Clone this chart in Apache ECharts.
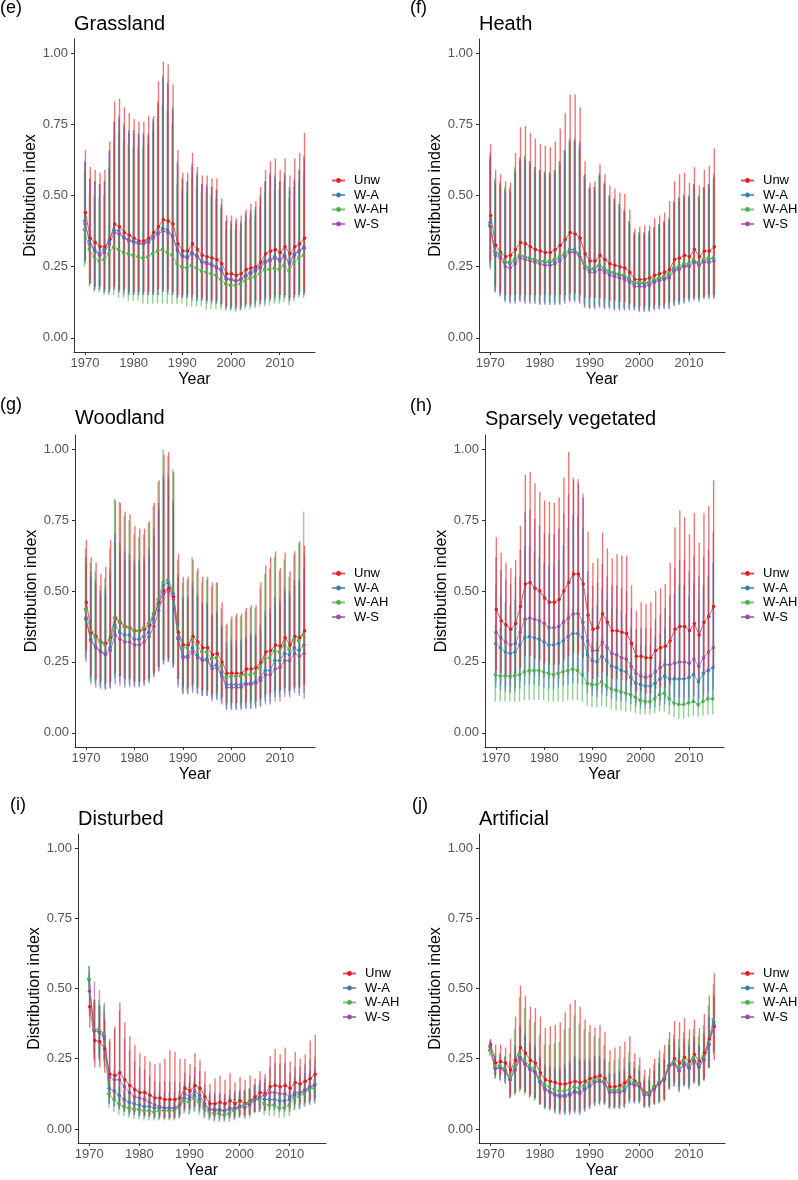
<!DOCTYPE html>
<html>
<head>
<meta charset="utf-8">
<script src="https://cdn.jsdelivr.net/npm/echarts@6/dist/echarts.min.js"></script>
<style>
  html, body { margin: 0; padding: 0; background: #fff; }
  #main { width: 798px; height: 1180px; }
</style>
</head>
<body>
<div id="main"></div>
<script>
// years on the x axis
var years = [1970,1971,1972,1973,1974,1975,1976,1977,1978,1979,
             1980,1981,1982,1983,1984,1985,1986,1987,1988,1989,
             1990,1991,1992,1993,1994,1995,1996,1997,1998,1999,
             2000,2001,2002,2003,2004,2005,2006,2007,2008,2009,
             2010,2011,2012,2013,2014,2015];
var seriesNames = ['Unw', 'W-A', 'W-AH', 'W-S'];
var xTicks = [1970, 1980, 1990, 2000, 2010];
var yTicks = [0, 0.25, 0.5, 0.75, 1];

// all values below in hundredths of the distribution index
// (e) Grassland
var grUnw   = [44,35,33.5,32,32,34.5,40,39,37,36, 35,34,34,35,37,39,41.5,41,40,33, 30.5,30.5,33,31,29,28.5,28,27.5,26,22.5, 22.5,22,22.5,24,24.5,25,26.5,29.5,30.5,31, 30,32,29.5,32,33,35];
var grUnwLo = [27,19,18,18,17,17,18,17,17,16, 16,16,16,16,16,17,17,17,16,15, 15,15,15,14,14,13,13,13,12,11, 11,11,11,12,12,13,13,14,14,15, 15,15,14,15,16,16];
var grUnwHi = [66,60,59,58,59,69,83,84,81,79, 77,76,76,78,78,90,97,96,89,66, 58,58,65,60,57,57,56,56,49,43, 43,42,43,45,47,48,53,59,62,63, 59,63,57,63,65,72];
var grWA    = [41,34,31,29.5,31,34,38,37.5,35.5,34.5, 34,33.5,33,34,35.5,37,38.5,38,36,31, 29,28.5,30,29,27,26.5,26,25,24,21, 20.5,20,20.5,22,23,24,25,27,27.5,28.5, 27.5,29,26.5,29.5,30.5,32];
var grWALo  = [27,19,17,17,16,16,17,16,16,15, 15,15,15,15,15,15,16,16,15,14, 14,14,14,13,13,13,13,12,12,11, 10,10,10,11,11,12,12,13,13,14, 14,14,13,14,15,15];
var grWAHi  = [62,56,55,54,55,66,76,78,75,73, 73,72,72,72,77,83,92,90,81,62, 56,55,61,58,54,54,53,52,47,41, 41,41,41,44,45,46,50,55,58,57, 55,58,53,56,59,64];
var grWAH   = [38,31,28.5,27,27.5,29.5,32,31,30,29.5, 29,28.5,28,28.5,29.5,30.5,31,30,29,26, 25,24.5,25.5,24.5,23.5,23,22.5,22,20.5,19, 18.5,18.5,19,20,21,21.5,22.5,24,24,24.5, 24,25.5,23.5,26.5,28,29];
var grWAHLo = [25,18,16,16,15,15,15,14,14,13, 13,13,12,12,12,12,12,12,12,12, 12,11,11,11,11,10,10,10,10,9.5, 9.5,9,9.5,10,10,10.5,11,11,11.5,12, 12,12.5,11.5,13,14,14];
var grWAHHi = [59,51,50,49,50,60,70,72,69,68, 67,67,67,68,73,77,82,80,75,54, 52,51,56,53,51,51,50,49,45,38, 38,38,38,41,42,43,46,51,52,52, 52,55,49,53,55,58];
var grWS    = [40,33,30.5,29,30,33,37,36.5,35,34, 33.5,33,33,33.5,35,36.5,37.5,37,35.5,30.5, 28.5,28,29.5,28.5,26.5,26,25.5,24.5,23.5,20.5, 20.5,20,20.5,21.5,22.5,23.5,24.5,26.5,27,28, 27,28.5,26,29,30.5,31.5];
var grWSLo  = [26,19,17,17,16,16,17,16,15,15, 15,15,15,15,15,15,16,15,15,14, 14,14,13,13,13,12,12,12,11,10, 10,10,10,11,11,11,12,12,13,13, 13,14,13,14,15,15];
var grWSHi  = [62,56,55,54,55,65,76,77,74,72, 72,71,71,71,76,82,91,89,80,61, 56,55,60,57,54,53,53,52,46,41, 40,40,40,43,44,45,49,55,57,56, 55,57,52,55,59,63];

// (f) Heath
var heUnw   = [43,32.5,30,28.5,29,31,33.5,33,32,31, 30.5,30,30,31,32.5,34.5,37,36.5,35,29.5, 27,27,29,27.5,26,25.5,25,24.5,23,20.5, 20.5,20.5,21,22,22.5,23,24,27.5,28,29, 28.5,31,28.5,30.5,30.5,32];
var heUnwLo = [27,18,16,15,15,15,15,15,15,15, 15,15,15,15,15,15,15.5,15.5,15,14, 14,14,14,13.5,13,13,12.5,12.5,12,11, 11,11,11,11.5,11.5,12,12.5,13,13,14, 14,14.5,14,14.5,15,15];
var heUnwHi = [68,59,57.5,55,54.5,65,74,74.5,72,70, 68,67.5,67,69,73.5,79,85.5,85.5,81,62, 54.5,55,61,57.5,53.5,52.5,51,50.5,45,38.5, 39,39.5,39.5,42,43,44,48,55,57.5,58, 54.5,60,53.5,59,60.5,66.5];
var heWA    = [40.5,30,29,26.5,26,27,29,28.5,28,27.5, 27,26.5,26.5,27,28,29.5,31,31,29.5,26, 24,24,25.5,24,23,22.5,22,21.5,20.5,19, 19,19,19,20,20.5,21,21.5,24,24.5,25.5, 25.5,27,26,27,27.5,28];
var heWALo  = [25,16,15,13,12.5,12.5,13,12.5,12.5,12.5, 12,12,12,12,12,12.5,13,13,12.5,11, 10.5,10.5,11,10.5,10.5,10,10,10,10,10, 9.5,9.5,9.5,10,10,10.5,10.5,11.5,12,12.5, 13,13.5,13,14,14,14];
var heWAHi  = [65,55,54,52,52,59,63,63.5,62,60, 59,58,58,59,62,66,70,70,69,57.5, 53,53,58,55,50,49,47,45,41,37, 37,37,37.5,39,40,41,42,48,49,50, 50,54,50,53,54,57.5];
var heWAH   = [39.5,30.5,29.5,27,26.5,27.5,29,28.5,28,27.5, 27,27,27,27.5,28.5,29.5,30.5,30.5,29,26, 24.5,24.5,25.5,24.5,23.5,23,22.5,22,21,19.5, 19.5,19.5,19.5,20.5,21,21.5,22.5,24.5,25,26, 26,27.5,26.5,27.5,28,28];
var heWAHLo = [26,17,15,13.5,13,13,13.5,13,13,13, 12.5,12.5,12.5,12.5,12.5,13,13.5,13.5,13,12, 11,11,11.5,11,11,10.5,10.5,10.5,10.5,10.5, 10,10,10,10.5,11,11,11.5,12,12.5,13, 13.5,14,14,14.5,15,15];
var heWAHHi = [63,56,55,53,53,60,63.5,64,62,60, 59,58.5,58,59,62,66,69,69,67,57, 52.5,53,57,54,50,49,47,45,41,37, 37,37,37.5,39,40,41,42,48,49.5,50.5, 50,54,50,53,54,56];
var heWS    = [39,29,28,25,24.5,26,28,27.5,27,26.5, 26,25.5,25.5,26,27,28.5,30,30,28.5,24.5, 23,23,24,23,22,21.5,21,20.5,19.5,18, 18,18,18.5,19.5,20,20.5,21,23.5,24,25, 25,26.5,25.5,26.5,26.5,27];
var heWSLo  = [24,16,14.5,12.5,12,12,12.5,12,12,12, 11.5,11.5,11.5,11.5,11.5,12,12.5,12.5,12,10.5, 10,10,10.5,10,10,9.5,9.5,9.5,9.5,9.5, 9,9,9,9.5,10,10,10,11,11.5,12, 12.5,13,12.5,13.5,13.5,13.5];
var heWSHi  = [64,54,53,51,51,58,62,62.5,61,59, 58,57,57,58,61,65,69,69,68,56, 52,52,57,54,49,48,46,44,40,36, 36,36,36.5,38,39,40,41,47,48,49, 49,53,49,52,53,56.5];

// (g) Woodland
var woUnw   = [46,35.5,34,32,31.5,33.5,40.5,39,37.5,37, 36,36,36.5,38,42,46,50,51,48,35.5, 31,31,34,32,30,30,27.5,28,25,21, 21,21,21,22.5,22.5,23,25,28.5,29,31, 30.5,33.5,31,34,33.5,36];
var woUnwLo = [29,20,19,18,17.5,18,21,20,19,19, 18,18,18.5,19,21,23,25.5,26,24,19, 16,16,17,16,15,15,13.5,14,12.5,10.5, 10.5,10.5,10.5,11,11,11,12,13.5,14,15, 15,16,15,16,16,17];
var woUnwHi = [68,62,60,56,58.5,68,82,81,78,77, 73,72,72,74.5,81,89,98,99,92,63, 55,55,61,58,55,55,53,53,46,38.5, 41,42,42,44,45,45,53,59,62,64, 58,63.5,57,64,67.5,66];
var woWA    = [40,33,30.5,29,28,30,38,35.5,34.5,34.5, 33,33,34,35.5,40,45.5,52,53,49,33.5, 27,27,30,27.5,26,26,23.5,24,21,17, 17,17,17,17.5,17.5,18,19.5,22,22,25.5, 25.5,28,27.5,30,29,31];
var woWALo  = [26,18,17,16,15.5,16,19,18,17,17, 16.5,16.5,17,18,20,22,24.5,25,23,17, 14,14,15,14,13,13,12,12,11,8.5, 8.5,8.5,8.5,8.5,8.5,9,9.5,11,11,12.5, 12.5,14,13.5,15,14,14];
var woWAHi  = [62,57,54,50,51,58,70,67,64,63, 61,61,62,65,72,81,91,91,82,56, 48,48,53,49,46,46,42,43,38,32, 33,33,33,34,35,35,38,43,44,48, 47,51,50,54,54,58];
var woWAH   = [43.5,36,33.5,32,31,33,40.5,39,37.5,37, 36,36,37,38.5,42,47,53,54,50.5,37, 30,30,33,31,28.5,28.5,26,26.5,23.5,19.5, 20,20,20,20.5,20.5,21,23,26,26.5,29, 28.5,31,29.5,33,32.5,34.5];
var woWAHLo = [27,19,18,17,16.5,17,20,19.5,19,18.5, 18,18,18,19,21,23.5,26,26.5,25,19, 15,15,16.5,15.5,14,14,13,13,11.5,9.5, 9.5,9.5,9.5,10,10,10,11,12.5,13,14, 14,15.5,14.5,16,16,17];
var woWAHHi = [65,60,57,52,54.5,65,82.5,81.5,76.5,75, 70,69,70,74,80,88.5,100,97.5,93,61, 53,54,62,57,53,54,51.5,53,44,38, 40,41,41,43,44,44,51,56,58,62, 57,61,55,63,67,78];
var woWS    = [40.5,32.5,30,28.5,27.5,29,34.5,33,32,32, 31,31,32,34,37.5,43,49,50,47,33, 26.5,26.5,28.5,26.5,25.5,25.5,22.5,23,20,16, 16,16,16,17,17,17.5,18.5,20.5,20.5,22.5, 23,25.5,25.5,28,27,28];
var woWSLo  = [25,17,16,15.5,15,15.5,17,16.5,16,16, 16,16,16.5,17.5,19.5,21.5,24,25,23,16, 13.5,13.5,14,13.5,13,13,11,11.5,10,8, 8,8,8,8.5,8.5,8.5,9,10,10,11, 11,12.5,12.5,14,13,12];
var woWSHi  = [60,55,52,48,49,56,67,64,61,61, 59,59,60,63,69,79,89,89,80,55, 47,47,51,48,45,45,41,42,37,30, 31,31,31,33,34,34,36,41,42,45, 45,49,48,52,53,63];

// (h) Sparsely vegetated
var spUnw   = [43.5,39.5,38,36.5,38.5,44.5,52.5,53,51,50, 47.5,46,46,47,50,53,56,56,52.5,41.5, 36.5,37,42,39,36,36,35.5,35,31.5,27, 27,26.5,26.5,29,30,30.5,32.5,36.5,37.5,37.5, 36,38.5,34.5,39,41,44.5];
var spUnwLo = [22,21,20,19,20,23,27,27,26,25.5, 24.5,24,24,24,25.5,27,28,28,26.5,21.5, 19,19.5,21.5,20,19,19,18.5,18.5,16.5,14.5, 14.5,14,14,15.5,16,16,17,19,19.5,19.5, 19,20,18,20.5,21.5,23];
var spUnwHi = [69,63.5,60,58,61,73,91,92,88,85, 82,81.5,81,83,90,99,89,88,83,71, 60,61.5,70.5,65,61.5,63,62.5,62.5,52,43, 46,45.5,46,50,51,52.5,60,72.5,78.5,76, 70,77.5,67,77.5,80,89];
var spWA    = [31.5,30,28.5,28,28.5,31,33.5,34,33.5,33, 32,31,31,31.5,32.5,34,35,35,33.5,27.5, 25.5,25,27,25.5,23.5,23,22,21.5,19.5,17.5, 17,16.5,16.5,17.5,19,20,19,19,19,19, 19.5,20.5,18,21,22,23];
var spWALo  = [16,15,14.5,14,14.5,15.5,17,17,17,16.5, 16,15.5,15.5,16,16.5,17,17.5,17.5,17,14, 13,12.5,13.5,13,12,11.5,11,11,10,9, 8.5,8.5,8.5,9,9.5,10,9.5,9.5,9.5,9.5, 10,10.5,9,10.5,11,11.5];
var spWAHi  = [52,49,46,45,47,55,66,66,64,62, 60,59,59,61,66,72,77,76.5,72,49, 44,45,51,47,44,44,43,42,37,31, 31,31,31,34,35,37,41,49,52,52, 48,53,47,52,55,60];
var spWAH   = [20.5,20,20,20,20,20.5,21.5,22,22,22, 21.5,21,20.5,21,21.5,22,22.5,22,20.5,17.5, 17,17,18,16.5,15.5,15,14.5,14,13.5,12.5, 11.5,11,11,12,13.5,14,12,10.5,10,10, 10.5,11,10,11,12,12];
var spWAHLo = [11,11,11,11,11,11,11.5,11.5,11.5,11.5, 11.5,11,11,11,11,11.5,11.5,11.5,11,9.5, 9,9,9.5,9,8.5,8,8,7.5,7.5,7, 6.5,6.5,6.5,7,7.5,7.5,6.5,5.5,5,5, 5.5,6,5.5,6,6.5,6.5];
var spWAHHi = [38,37,37,37,37,38,40,40,40,40, 39,38,38,38,40,42,44,44,40,33, 32,32,34,31,29,28,27,27,25,23, 22,21,21,23,25,26,23,20,19,19, 20,21,19,21,23,23];
var spWS    = [35.5,33.5,32,31,31.5,35.5,40,40.5,40,39.5, 38.5,37,37,37.5,39,40.5,42,42,39,32.5, 29,29,32,30,28,27.5,26.5,26,23.5,21, 20,19.5,20,21.5,23,24,24,24.5,25,25, 24.5,26,23.5,26.5,28.5,30];
var spWSLo  = [18,17,16.5,16,16,18,20,20.5,20,20, 19.5,19,19,19,20,20.5,21,21,20,16.5, 15,15,16,15,14,14,13.5,13,12,10.5, 10,10,10,11,11.5,12,12,12.5,12.5,12.5, 12.5,13,12,13.5,14.5,15];
var spWSHi  = [62,57.5,54,52.5,55,64.5,78,78.5,75.5,73, 70.5,70,70,72,77.5,84,90,89.5,84.5,57, 52,53,59.5,55,52,52,51,50,44,36.5, 37,37,37,40,41.5,44,48.5,58,61,61, 57,62.5,55,62,64.5,71];

// (i) Disturbed
var diUnw   = [43.5,31.5,31,28.5,19.5,19,20,17.5,15.5,14, 13,13,12,11,11,10.5,10.5,10.5,11,14.5, 13.5,15.5,14.5,11.5,9,9,9.5,9,10,9, 10,9,10,11.5,13,12.5,15,15.5,15,15.5, 14.5,16.5,16,17,18,19.5];
var diUnwLo = [36,22,22,20,11,10,8,7,6,6, 5.5,5,5,4.5,4.5,4,4,4,5,7, 7,8,7.5,6,4.5,4.5,4.5,4.5,4.5,4.5, 5,4.5,5,6,7,6.5,8,8,8,8, 7.5,9,9,9.5,10,11];
var diUnwHi = [52,46,44,39,32,36.5,45,38,33,30, 27,26,24,23,23.5,25,28,27.5,25,25, 23,27,24.5,20.5,16,18,19,17.5,20,16.5, 18.5,17.5,19,18,20.5,19.5,26,28.5,26.5,29, 24,27.5,25,26.5,31.5,33.5];
var diWA    = [53,35,34.5,33,14.5,13.5,12,10.5,9.5,9, 8.5,8,8,7.5,7.5,7.5,7.5,7.5,8,11, 10.5,12,10.5,8.5,7,7,7,6.5,7,7, 8,8.5,9,10,11,10.5,10.5,10.5,10,10, 10.5,12,12.5,13.5,14.5,15.5];
var diWALo  = [50,27,26,25,9,8,7,6,5.5,5, 4.5,4.5,4.5,4,4,4,4,4,4.5,7, 6.5,7.5,6.5,5,4,4,4,3.5,4,4, 4.5,5,5.5,6,6.5,6.5,6.5,6.5,6,6, 6.5,8,8,9,9.5,10];
var diWAHi  = [56,45,44,42,22,21,20,17,16,15, 14.5,14,13.5,13,13,13,13,13,13.5,17, 16.5,18.5,17,14,12,12,12,11.5,12,12.5, 13.5,14,14.5,15.5,16.5,16.5,17,17,16.5,16.5, 17,18.5,19,20,21,22];
var diWAH   = [53.5,35.5,35.5,34,12.5,10.5,9,8,7.5,7, 7,6.5,6.5,6,6.5,6.5,6.5,6.5,7.5,10, 9.5,11,9.5,7.5,6,5.5,5.5,5,5.5,6.5, 7.5,8.5,9.5,10.5,10.5,9,8.5,8.5,7.5,7.5, 8.5,11,11.5,12.5,14,14.5];
var diWAHLo = [49,25,25,24,7.5,6,5,4.5,4,3.5, 3.5,3,3,3,3,3,3,3,3.5,5.5, 5,6,5,4,3,2.5,2.5,2.5,2.5,3, 4,4.5,5,6,6,5,4.5,4.5,4,4, 4.5,6.5,7,8,9,9.5];
var diWAHHi = [58,46,46,44,20,17,15,13.5,12.5,12, 12,11.5,11,10.5,11,11,11,11,12,15.5, 15,16.5,15,12,10,9.5,9.5,9,9.5,11, 12,13.5,14.5,15.5,15.5,14,13.5,13.5,12.5,12.5, 13.5,16,16.5,18,19.5,20];
var diWS    = [49,35,34.5,32,18.5,17.5,17.5,15,13,11.5, 11,10.5,9.5,8.5,8,7.5,7.5,7.5,8.5,12.5, 11.5,13.5,12,9,7,6.5,6.5,6.5,7.5,7.5, 8,7.5,8.5,10.5,11.5,12,13,13,12.5,12.5, 11.5,13,13,14,15,16];
var diWSLo  = [40,24,24,22,9,8,7,6,5,5, 4.5,4,4,3.5,3.5,3.5,3.5,3.5,4,6, 5.5,6.5,6,4,3.5,3,3,3,3.5,3.5, 4,3.5,4,5.5,6,6.5,7,7,6.5,6.5, 6,7,7,8,8.5,9];
var diWSHi  = [58,52.5,49.5,45,31,35.5,42,32,28,24, 22,21,19,17,16.5,17,17,17,16.5,20, 19,22,20.5,16,13,13,13,12.5,14,13.5, 14,13.5,14,16,17.5,18,22,23.5,23,23.5, 20,22,22,23,25,25.5];

// (j) Artificial
var arUnw   = [30,23.5,24,23.5,21,24.5,29,27,24.5,23.5, 20,17.5,17,16.5,16,16,16.5,17,16.5,17, 18,18.5,19,18,15,15,15.5,16.5,18.5,17, 16,13,13,15,16.5,18,22.5,25,23.5,25.5, 24,26.5,24,27,32,36.5];
var arUnwLo = [28,19,19,18,12,13,14,13,12,11, 9,8,7.5,7,6.5,6.5,6.5,6.5,6.5,7.5, 8.5,9.5,10,9.5,8,8,8.5,9,10.5,10, 10,8,8.5,9,9.5,10,14,16.5,15,16, 15.5,17,16,18,22,24.5];
var arUnwHi = [32,30,30,29,32,40,51,47.5,43.5,43, 40,36,36.5,37,38,41.5,44.5,46,43.5,39, 37,36,37,34.5,28,29,29.5,31,33,27, 25.5,21,21.5,25,28,30,34.5,38.5,38,39.5, 35.5,39,36,41,47.5,55.5];
var arWA    = [29.5,21.5,22,21,17.5,21.5,25.5,23.5,21.5,20.5, 17,14.5,13.5,12.5,12,12,12.5,13.5,13,14.5, 15.5,17,17,16.5,13.5,13.5,13.5,14,16.5,16, 15.5,12.5,12.5,14.5,16.5,17.5,22.5,23.5,21,23.5, 22,24.5,22.5,25,30.5,38];
var arWALo  = [28,18,17.5,16.5,11,13,14.5,13.5,12,11, 9,7.5,7,6,5.5,5.5,5.5,6,5.5,6.5, 7.5,8.5,9,9,7.5,7.5,7.5,8,9.5,9.5, 9.5,8,8,9,10,11,15,15.5,13.5,15.5, 14.5,16.5,15.5,17.5,22,28];
var arWAHi  = [31.5,26,26.5,25.5,24,30,37,34,31,30, 26,23,22.5,22,22,23,24,26,25,25, 25,26,26,25,20,20,20.5,21.5,24,22, 21,17.5,17.5,21,23.5,25,30,32,29,32, 30,33,30,34,40,48];
var arWAH   = [28,22.5,22.5,21.5,18.5,22,26.5,24.5,22.5,21.5, 18,16,15,14,13.5,13.5,14,15,14.5,15.5, 16.5,17.5,18,17,14,14,14,15,17.5,16.5, 16,13,13,15,16.5,18,22.5,24,22,24.5, 23,25.5,23.5,26,31,39];
var arWAHLo = [26,19,18,17,11,12,13,12,11,10, 8.5,7.5,7,6.5,6,6,6,6.5,6,7, 8,9,9,9,7.5,7.5,7.5,8,10,9.5, 9.5,8,8,9,9,10,14,15.5,14,15.5, 15,16.5,15.5,17.5,21.5,26.5];
var arWAHHi = [31,27,27,26,27,35.5,47,43,39,38, 33.5,30,30,30.5,31,35.5,36,40.5,37.5,35.5, 34.5,33,32.5,30,24,24.5,25,25.5,27.5,24, 22.5,19,19,23,25.5,27,32,33.5,32,34.5, 32,35.5,33,37,44,51.5];
var arWS    = [29,21.5,21.5,20.5,17.5,21,25,23,21,20, 16.5,14,13,12,11.5,11.5,12,13,12.5,14, 15,16.5,17,16,13,13,13,13.5,16,15.5, 15,12,12,14,16,17.5,22.5,23,20.5,23, 21.5,24,22,24.5,30,37];
var arWSLo  = [27.5,18,17,16,11,12.5,14,13,11.5,10.5, 8.5,7,6.5,5.5,5,5,5,5.5,5,6, 7,8,8.5,8.5,7,7,7,7.5,9,9, 9,7.5,7.5,8.5,9.5,10.5,14.5,15,13,15, 14,16,15,17,21.5,27.5];
var arWSHi  = [31,25.5,25.5,24.5,23.5,29,36,33,30,29, 25,22,21.5,21,21,22,23,25,24,24, 24,25.5,25.5,24.5,19.5,19.5,20,20.5,23.5,21.5, 20.5,17,17,20.5,23,24.5,30,31,28,31, 29,32,29.5,33,39.5,47];

var panelTags   = ['(e)', '(f)', '(g)', '(h)', '(i)', '(j)'];
var panelTitles = ['Grassland', 'Heath', 'Woodland', 'Sparsely vegetated', 'Disturbed', 'Artificial'];
var panelData = [
  { mean: [grUnw, grWA, grWAH, grWS], lo: [grUnwLo, grWALo, grWAHLo, grWSLo], hi: [grUnwHi, grWAHi, grWAHHi, grWSHi] },
  { mean: [heUnw, heWA, heWAH, heWS], lo: [heUnwLo, heWALo, heWAHLo, heWSLo], hi: [heUnwHi, heWAHi, heWAHHi, heWSHi] },
  { mean: [woUnw, woWA, woWAH, woWS], lo: [woUnwLo, woWALo, woWAHLo, woWSLo], hi: [woUnwHi, woWAHi, woWAHHi, woWSHi] },
  { mean: [spUnw, spWA, spWAH, spWS], lo: [spUnwLo, spWALo, spWAHLo, spWSLo], hi: [spUnwHi, spWAHi, spWAHHi, spWSHi] },
  { mean: [diUnw, diWA, diWAH, diWS], lo: [diUnwLo, diWALo, diWAHLo, diWSLo], hi: [diUnwHi, diWAHi, diWAHHi, diWSHi] },
  { mean: [arUnw, arWA, arWAH, arWS], lo: [arUnwLo, arWALo, arWAHLo, arWSLo], hi: [arUnwHi, arWAHi, arWAHHi, arWSHi] }
];

// ---- layout / style (kept apart from the data) ----
var colors = ['#E41A1C', '#377EB8', '#4DAF4A', '#984EA3'];
var dodge = [0.1, -0.03, -0.1, 0.03];   // small dodge, bars mostly overlap
var barOrder = [3, 2, 1, 0];            // red error bars drawn last (on top)
var font = '"Liberation Sans", Arial, sans-serif';
var grids = [
  { left: 74,  top: 39,  width: 241, height: 313 },
  { left: 479, top: 39,  width: 246, height: 313 },
  { left: 75,  top: 435, width: 240, height: 312 },
  { left: 485, top: 435, width: 239, height: 312 },
  { left: 78,  top: 834, width: 248, height: 313 },
  { left: 479, top: 834, width: 246, height: 313 }
];
var tagPos    = [[0, -1], [410, -1], [0, 396], [410, 397], [10, 796], [412, 796]];
var titlePos  = [[74, 14], [479, 14], [75, 408], [485, 409], [78, 809], [479, 809]];
var legendPos = [[331, 174], [740, 174], [331, 567], [740, 567], [342, 967], [740, 967]];

var chart = echarts.init(document.getElementById('main'), null, { renderer: 'canvas' });

var titles = [], xAxes = [], yAxes = [], legends = [], lineSeries = [], barSeries = [];

grids.forEach(function (g, i) {
  titles.push({ text: panelTags[i], left: tagPos[i][0], top: tagPos[i][1], padding: 0,
    textStyle: { fontSize: 18, fontWeight: 'normal', color: '#000', fontFamily: font } });
  titles.push({ text: panelTitles[i], left: titlePos[i][0], top: titlePos[i][1], padding: 0,
    textStyle: { fontSize: 20, fontWeight: 'normal', color: '#000', fontFamily: font } });

  xAxes.push({
    type: 'value', gridIndex: i, min: 1967.75, max: 2017.25,
    name: 'Year', nameLocation: 'middle', nameGap: 20,
    nameTextStyle: { fontSize: 16, color: '#000', fontFamily: font },
    axisLine: { show: true, onZero: false, lineStyle: { color: '#333', width: 1 } },
    axisTick: { show: true, length: 3, customValues: xTicks, lineStyle: { color: '#333' } },
    axisLabel: { customValues: xTicks, color: '#555', fontSize: 13, margin: 5, fontFamily: font,
      formatter: function (v) { return String(v); } },
    splitLine: { show: false }
  });
  yAxes.push({
    type: 'value', gridIndex: i, min: -0.05, max: 1.05,
    name: 'Distribution index', nameLocation: 'middle', nameGap: 31,
    nameTextStyle: { fontSize: 16, color: '#000', fontFamily: font },
    axisLine: { show: true, onZero: false, lineStyle: { color: '#333', width: 1 } },
    axisTick: { show: true, length: 3, customValues: yTicks, lineStyle: { color: '#333' } },
    axisLabel: { customValues: yTicks, color: '#555', fontSize: 13, margin: 6, fontFamily: font,
      formatter: function (v) { return v.toFixed(2); } },
    splitLine: { show: false }
  });
  legends.push({
    data: seriesNames, orient: 'vertical', left: legendPos[i][0], top: legendPos[i][1],
    padding: 0, itemWidth: 13, itemHeight: 6, itemGap: 1.5, selectedMode: false,
    textStyle: { fontSize: 13, color: '#000', fontFamily: font, padding: [0, 0, 0, 4] }
  });

  var d = panelData[i];
  seriesNames.forEach(function (name, s) {
    lineSeries.push({
      name: name, type: 'line', xAxisIndex: i, yAxisIndex: i,
      data: years.map(function (yr, k) { return [yr + dodge[s], d.mean[s][k] / 100]; }),
      symbol: 'circle', symbolSize: 3.5, showSymbol: true,
      lineStyle: { color: colors[s], width: 1, opacity: 0.75 },
      itemStyle: { color: colors[s] },
      z: 3, silent: true, animation: false
    });
  });
  barOrder.forEach(function (s) {
    barSeries.push({
      name: seriesNames[s], type: 'custom', xAxisIndex: i, yAxisIndex: i,
      data: years.map(function (yr, k) { return [yr + dodge[s], d.lo[s][k] / 100, d.hi[s][k] / 100]; }),
      encode: { x: 0, y: [1, 2] },
      renderItem: (function (col) {
        return function (params, api) {
          var p1 = api.coord([api.value(0), api.value(1)]);
          var p2 = api.coord([api.value(0), api.value(2)]);
          return { type: 'line', shape: { x1: p1[0], y1: p1[1], x2: p2[0], y2: p2[1] },
            style: { stroke: col, lineWidth: 1.4, opacity: 0.6 } };
        };
      })(colors[s]),
      z: 2, silent: true, animation: false
    });
  });
});

chart.setOption({
  animation: false,
  backgroundColor: '#fff',
  textStyle: { fontFamily: font },
  title: titles,
  grid: grids,
  xAxis: xAxes,
  yAxis: yAxes,
  legend: legends,
  series: lineSeries.concat(barSeries)
});
</script>
</body>
</html>
